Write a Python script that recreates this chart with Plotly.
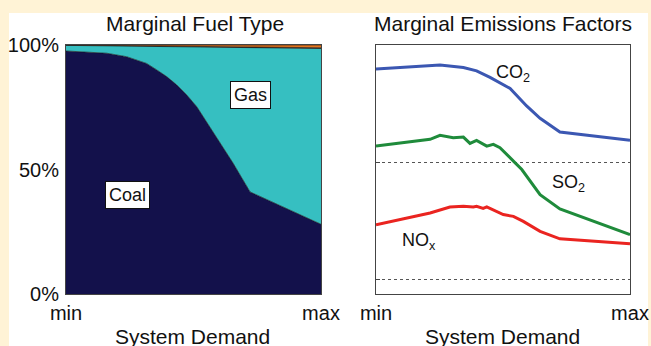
import plotly.graph_objects as go

W, H = 651, 346

# ---------------- data ----------------
# Left panel: marginal fuel type share (%), x normalised system demand (0=min, 1=max)
demand_x = [0, 0.16, 0.238, 0.316, 0.356, 0.395, 0.434, 0.473, 0.513, 0.538, 0.573, 0.655, 0.722, 1.0]
coal_pct = [97.6, 96.7, 95.3, 92.6, 90.0, 87.3, 84.0, 80.0, 75.2, 71.2, 65.9, 52.6, 41.0, 28.0]
gas_pct = [2.25, 2.95, 4.25, 6.85, 9.4, 12.05, 15.3, 19.26, 24.0, 27.98, 33.23, 46.43, 57.95, 70.6]
other_pct = [0.15, 0.15, 0.15, 0.15, 0.15, 0.15, 0.15, 0.15, 0.15, 0.18, 0.2, 0.22, 0.25, 0.3]
oil_pct = [0.0, 0.2, 0.3, 0.4, 0.45, 0.5, 0.55, 0.6, 0.64, 0.67, 0.72, 0.82, 0.88, 1.1]

fuel_ticks = [0, 50, 100]
fuel_ticktext = ["0%", "50%", "100%"]
x_ticks = [0, 1]
x_ticktext = ["min", "max"]

# Right panel: marginal emissions factors (relative units)
co2_x = [0, 0.121, 0.252, 0.344, 0.396, 0.449, 0.528, 0.593, 0.646, 0.724, 1.0]
co2_y = [2.795, 2.809, 2.829, 2.809, 2.780, 2.724, 2.630, 2.481, 2.376, 2.259, 2.188]

so2_x = [0, 0.213, 0.252, 0.304, 0.344, 0.370, 0.396, 0.436, 0.462, 0.488, 0.541, 0.574, 0.646, 0.724, 1.0]
so2_y = [2.139, 2.197, 2.231, 2.211, 2.216, 2.162, 2.188, 2.139, 2.154, 2.126, 2.011, 1.940, 1.726, 1.604, 1.385]

nox_x = [0, 0.213, 0.291, 0.344, 0.383, 0.396, 0.422, 0.436, 0.501, 0.541, 0.580, 0.646, 0.724, 1.0]
nox_y = [1.470, 1.570, 1.621, 1.627, 1.621, 1.627, 1.609, 1.621, 1.556, 1.541, 1.498, 1.413, 1.350, 1.308]

emis_grid = [1, 2, 3]

# ---------------- figure ----------------
FONT = "Liberation Sans, Arial, Helvetica, sans-serif"
fig = go.Figure()

def px_x(p):
    return p / W

def px_y(p):
    return 1 - p / H

edge = dict(color="#111111", width=0.6)
for name, vals, col in [("Coal", coal_pct, "#13114B"), ("Gas", gas_pct, "#36BFC1"),
                        ("Other", other_pct, "#3A1C08"), ("Oil", oil_pct, "#E5761F")]:
    fig.add_trace(go.Scatter(x=demand_x, y=vals, stackgroup="fuel", mode="lines",
                             line=edge, fillcolor=col, name=name,
                             xaxis="x", yaxis="y", showlegend=False))

for name, xs, ys, col in [("CO2", co2_x, co2_y, "#3B57B2"),
                          ("SO2", so2_x, so2_y, "#1F8B3B"),
                          ("NOx", nox_x, nox_y, "#EA2420")]:
    fig.add_trace(go.Scatter(x=xs, y=ys, mode="lines", line=dict(color=col, width=3),
                             name=name, xaxis="x2", yaxis="y2", showlegend=False))

y_dom = [px_y(294), px_y(45)]
axis_common = dict(showline=True, linecolor="#444444", linewidth=1, mirror=True,
                   zeroline=False, automargin=False,
                   tickfont=dict(family=FONT, size=20, color="#111111"))

fig.update_layout(
    width=W, height=H,
    margin=dict(l=0, r=0, t=0, b=0, autoexpand=False),
    paper_bgcolor="#FFF3D6",
    plot_bgcolor="white",
    xaxis=dict(domain=[px_x(66), px_x(321)], range=[0, 1], tickvals=x_ticks, ticktext=x_ticktext,
               ticks="", showgrid=False, ticklabelstandoff=1, **axis_common),
    yaxis=dict(domain=y_dom, range=[0, 100], tickvals=fuel_ticks, ticktext=fuel_ticktext,
               ticks="", showgrid=False, ticklabelstandoff=2, **axis_common),
    xaxis2=dict(domain=[px_x(376), px_x(630)], range=[0, 1], tickvals=x_ticks, ticktext=x_ticktext,
                ticks="", showgrid=False, anchor="y2", ticklabelstandoff=1, **axis_common),
    yaxis2=dict(domain=y_dom, range=[0.88, 3.0], tickvals=emis_grid, showticklabels=False,
                ticks="inside", ticklen=4, tickcolor="#444444", showgrid=True,
                gridcolor="#555555", griddash="dot", gridwidth=1, anchor="x2", **axis_common),
    shapes=[dict(type="rect", xref="paper", yref="paper", x0=px_x(9), x1=px_x(648),
                 y0=-0.01, y1=px_y(13), fillcolor="white", line=dict(width=0), layer="below")],
)

def ann(text, x, y, size=21, **kw):
    fig.add_annotation(text=text, x=px_x(x), y=px_y(y), xref="paper", yref="paper",
                       showarrow=False, font=dict(family=FONT, size=size, color="#111111"),
                       xanchor="center", yanchor="middle", **kw)

ann("Marginal Fuel Type", 195, 23)
ann("Marginal Emissions Factors", 503, 23)
ann("System Demand", 192, 336)
ann("System Demand", 503, 336)
ann("Gas", 250, 95, size=18, bgcolor="white", bordercolor="#111111", borderwidth=1, borderpad=3)
ann("Coal", 127, 195, size=18, bgcolor="white", bordercolor="#111111", borderwidth=1, borderpad=3)
ann("CO<sub>2</sub>", 513, 73, size=18)
ann("SO<sub>2</sub>", 568, 183, size=18)
ann("NO<sub>x</sub>", 419, 241, size=18)

fig.write_html("out.html", config={"displayModeBar": False},
               post_script="document.body.style.margin='0';document.body.style.overflow='hidden';")
